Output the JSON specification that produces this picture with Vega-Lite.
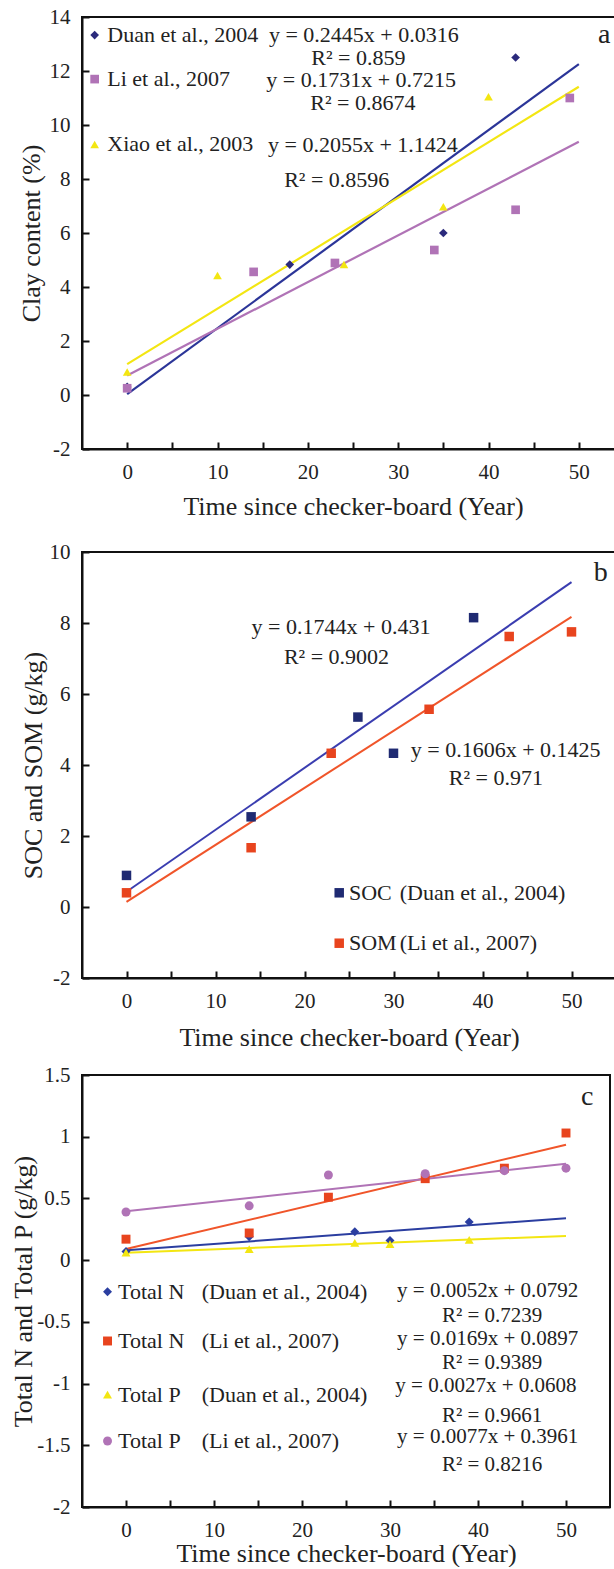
{
  "$schema": "https://vega.github.io/schema/vega-lite/v6.json",
  "padding": {"left": 9, "top": 5, "right": 0, "bottom": 0},
  "background": "white",
  "spacing": 103,
  "bounds": "flush",
  "resolve": {"scale": {"color": "independent", "shape": "independent"}},
  "config": {
    "font": "Liberation Serif",
    "view": {"stroke": "#111", "strokeWidth": 2},
    "axis": {
      "domain": true, "domainColor": "#111", "domainWidth": 2, "zindex": 1,
      "ticks": true, "tickColor": "#111", "tickWidth": 2, "tickSize": -7,
      "labelFont": "Liberation Serif", "labelFontSize": 21, "labelColor": "#222", "labelPadding": 19,
      "titleFont": "Liberation Serif", "titleFontSize": 26, "titleFontWeight": "normal", "titleColor": "#222",
      "grid": false, "labelFlush": false, "labelOverlap": false
    },
    "axisY": {"ticks": true, "tickColor": "#111", "tickWidth": 2, "tickSize": -7},
    "text": {"color": "#222", "font": "Liberation Serif"}
  },
  "datasets": {
    "aPts": [
      {"s": "Duan", "x": 0, "y": 0.3}, {"s": "Duan", "x": 18, "y": 4.83}, {"s": "Duan", "x": 35, "y": 6.0}, {"s": "Duan", "x": 43, "y": 12.5},
      {"s": "Li", "x": 0, "y": 0.25}, {"s": "Li", "x": 14, "y": 4.56}, {"s": "Li", "x": 23, "y": 4.89}, {"s": "Li", "x": 34, "y": 5.37}, {"s": "Li", "x": 43, "y": 6.86}, {"s": "Li", "x": 49, "y": 11.0},
      {"s": "Xiao", "x": 0, "y": 0.85}, {"s": "Xiao", "x": 10, "y": 4.43}, {"s": "Xiao", "x": 24, "y": 4.83}, {"s": "Xiao", "x": 35, "y": 6.97}, {"s": "Xiao", "x": 40, "y": 11.05},
      {"s": "Duan", "x": -3.6, "y": 13.33}, {"s": "Li", "x": -3.6, "y": 11.7}, {"s": "Xiao", "x": -3.6, "y": 9.28}
    ],
    "aLines": [
      {"s": "Duan fit", "x": 0, "y": 0.0316}, {"s": "Duan fit", "x": 50, "y": 12.2566},
      {"s": "Li", "x": 0, "y": 0.7215}, {"s": "Li", "x": 50, "y": 9.3765},
      {"s": "Xiao", "x": 0, "y": 1.1424}, {"s": "Xiao", "x": 50, "y": 11.4174}
    ],
    "aLeg": [
      {"x": -2.2, "y": 13.33, "t": "Duan et al., 2004"},
      {"x": -2.2, "y": 11.7, "t": "Li et al., 2007"},
      {"x": -2.2, "y": 9.28, "t": "Xiao et al., 2003"}
    ],
    "aEq": [
      {"x": 26.2, "y": 13.33, "t": "y = 0.2445x + 0.0316"},
      {"x": 25.6, "y": 12.47, "t": "R² = 0.859"},
      {"x": 25.9, "y": 11.65, "t": "y = 0.1731x + 0.7215"},
      {"x": 26.1, "y": 10.8, "t": "R² = 0.8674"},
      {"x": 26.1, "y": 9.27, "t": "y = 0.2055x + 1.1424"},
      {"x": 23.2, "y": 7.95, "t": "R² = 0.8596"}
    ],
    "aTag": [{"x": 52.8, "y": 13.33, "t": "a"}],
    "bPts": [
      {"s": "SOC", "x": 0, "y": 0.89}, {"s": "SOC", "x": 14, "y": 2.54}, {"s": "SOC", "x": 26, "y": 5.35}, {"s": "SOC", "x": 30, "y": 4.33}, {"s": "SOC", "x": 39, "y": 8.15},
      {"s": "SOM", "x": 0, "y": 0.4}, {"s": "SOM", "x": 14, "y": 1.67}, {"s": "SOM", "x": 23, "y": 4.33}, {"s": "SOM", "x": 34, "y": 5.57}, {"s": "SOM", "x": 43, "y": 7.62}, {"s": "SOM", "x": 50, "y": 7.75},
      {"s": "SOC", "x": 23.9, "y": 0.4}, {"s": "SOM", "x": 23.9, "y": -1.02}
    ],
    "bLines": [
      {"s": "SOC fit", "x": 0, "y": 0.431}, {"s": "SOC fit", "x": 50, "y": 9.151},
      {"s": "SOM fit", "x": 0, "y": 0.1425}, {"s": "SOM fit", "x": 50, "y": 8.1725}
    ],
    "bLeg": [
      {"x": 25.0, "y": 0.4, "t": "SOC"}, {"x": 30.7, "y": 0.4, "t": "(Duan et al., 2004)"},
      {"x": 25.0, "y": -1.02, "t": "SOM"}, {"x": 30.7, "y": -1.02, "t": "(Li et al., 2007)"}
    ],
    "bEq": [
      {"x": 24.1, "y": 7.89, "t": "y = 0.1744x + 0.431"},
      {"x": 23.6, "y": 7.03, "t": "R² = 0.9002"},
      {"x": 42.6, "y": 4.41, "t": "y = 0.1606x + 0.1425"},
      {"x": 41.5, "y": 3.62, "t": "R² = 0.971"}
    ],
    "bTag": [{"x": 53.3, "y": 9.41, "t": "b"}],
    "cPts": [
      {"s": "TN Duan", "x": 0, "y": 0.07}, {"s": "TN Duan", "x": 14, "y": 0.19}, {"s": "TN Duan", "x": 26, "y": 0.23}, {"s": "TN Duan", "x": 30, "y": 0.16}, {"s": "TN Duan", "x": 39, "y": 0.31},
      {"s": "TN Li", "x": 0, "y": 0.17}, {"s": "TN Li", "x": 14, "y": 0.22}, {"s": "TN Li", "x": 23, "y": 0.51}, {"s": "TN Li", "x": 34, "y": 0.66}, {"s": "TN Li", "x": 43, "y": 0.745}, {"s": "TN Li", "x": 50, "y": 1.03},
      {"s": "TP Duan", "x": 0, "y": 0.06}, {"s": "TP Duan", "x": 14, "y": 0.09}, {"s": "TP Duan", "x": 26, "y": 0.14}, {"s": "TP Duan", "x": 30, "y": 0.13}, {"s": "TP Duan", "x": 39, "y": 0.165},
      {"s": "TP Li", "x": 0, "y": 0.39}, {"s": "TP Li", "x": 14, "y": 0.44}, {"s": "TP Li", "x": 23, "y": 0.69}, {"s": "TP Li", "x": 34, "y": 0.70}, {"s": "TP Li", "x": 43, "y": 0.725}, {"s": "TP Li", "x": 50, "y": 0.745},
      {"s": "TN Duan", "x": -2.1, "y": -0.256}, {"s": "TN Li", "x": -2.1, "y": -0.655}, {"s": "TP Duan", "x": -2.1, "y": -1.09}, {"s": "TP Li", "x": -2.1, "y": -1.465}
    ],
    "cLines": [
      {"s": "TN Duan", "x": 0, "y": 0.0792}, {"s": "TN Duan", "x": 50, "y": 0.3392},
      {"s": "TN Li fit", "x": 0, "y": 0.0897}, {"s": "TN Li fit", "x": 50, "y": 0.9347},
      {"s": "TP Duan", "x": 0, "y": 0.0608}, {"s": "TP Duan", "x": 50, "y": 0.1958},
      {"s": "TP Li", "x": 0, "y": 0.3961}, {"s": "TP Li", "x": 50, "y": 0.7811}
    ],
    "cLeg": [
      {"x": -0.9, "y": -0.256, "t": "Total N"}, {"x": 8.6, "y": -0.256, "t": "(Duan et al., 2004)"},
      {"x": -0.9, "y": -0.655, "t": "Total N"}, {"x": 8.6, "y": -0.655, "t": "(Li et al., 2007)"},
      {"x": -0.9, "y": -1.09, "t": "Total P"}, {"x": 8.6, "y": -1.09, "t": "(Duan et al., 2004)"},
      {"x": -0.9, "y": -1.465, "t": "Total P"}, {"x": 8.6, "y": -1.465, "t": "(Li et al., 2007)"}
    ],
    "cEq": [
      {"x": 41.1, "y": -0.25, "t": "y = 0.0052x + 0.0792"},
      {"x": 41.6, "y": -0.455, "t": "R² = 0.7239"},
      {"x": 41.1, "y": -0.64, "t": "y = 0.0169x + 0.0897"},
      {"x": 41.6, "y": -0.835, "t": "R² = 0.9389"},
      {"x": 40.9, "y": -1.02, "t": "y = 0.0027x + 0.0608"},
      {"x": 41.6, "y": -1.26, "t": "R² = 0.9661"},
      {"x": 41.1, "y": -1.43, "t": "y = 0.0077x + 0.3961"},
      {"x": 41.6, "y": -1.66, "t": "R² = 0.8216"}
    ],
    "cTag": [{"x": 52.4, "y": 1.32, "t": "c"}]
  },
  "vconcat": [
    {
      "width": 542, "height": 432,
      "resolve": {"scale": {"color": "shared", "shape": "shared"}},
      "encoding": {
        "x": {"field": "x", "type": "quantitative", "scale": {"domain": [-5, 55], "nice": false, "zero": false},
              "axis": {"values": [0, 5, 10, 15, 20, 25, 30, 35, 40, 45, 50], "labelExpr": "datum.value % 10 === 0 ? datum.label : ''", "title": "Time since checker-board (Year)", "titlePadding": 11}},
        "y": {"field": "y", "type": "quantitative", "scale": {"domain": [-2, 14], "nice": false, "zero": false},
              "axis": {"values": [-2, 0, 2, 4, 6, 8, 10, 12, 14], "ticks": true, "tickSize": -7, "tickColor": "#111", "tickWidth": 2, "labelExpr": "datum.value < 0 ? '-' + format(-datum.value, '~g') : format(datum.value, '~g')", "title": "Clay content (%)", "titlePadding": 5}}
      },
      "layer": [
        {"data": {"name": "aLines"}, "mark": {"type": "line", "strokeWidth": 2.2},
         "encoding": {"color": {"field": "s", "type": "nominal", "scale": {"domain": ["Duan", "Li", "Xiao", "Duan fit"], "range": ["#2B2A7C", "#B073B6", "#F3E612", "#2B3598"]}, "legend": null}}},
        {"data": {"name": "aPts"}, "mark": {"type": "point", "filled": true, "opacity": 1, "size": 75},
         "encoding": {"color": {"field": "s", "type": "nominal", "legend": null},
                      "shape": {"field": "s", "type": "nominal", "scale": {"domain": ["Duan", "Li", "Xiao"], "range": ["diamond", "square", "triangle-up"]}, "legend": null}}},
        {"data": {"name": "aLeg"}, "mark": {"type": "text", "align": "left", "baseline": "middle", "fontSize": 22},
         "encoding": {"text": {"field": "t"}}},
        {"data": {"name": "aEq"}, "mark": {"type": "text", "align": "center", "baseline": "middle", "fontSize": 22},
         "encoding": {"text": {"field": "t"}}},
        {"data": {"name": "aTag"}, "mark": {"type": "text", "align": "center", "baseline": "middle", "fontSize": 28},
         "encoding": {"text": {"field": "t"}}}
      ]
    },
    {
      "vconcat": [
        {
          "width": 534, "height": 426,
          "resolve": {"scale": {"color": "shared"}},
          "encoding": {
            "x": {"field": "x", "type": "quantitative", "scale": {"domain": [-5, 55], "nice": false, "zero": false},
                  "axis": {"values": [0, 5, 10, 15, 20, 25, 30, 35, 40, 45, 50], "labelExpr": "datum.value % 10 === 0 ? datum.label : ''", "title": "Time since checker-board (Year)", "titlePadding": 13}},
            "y": {"field": "y", "type": "quantitative", "scale": {"domain": [-2, 10], "nice": false, "zero": false},
                  "axis": {"values": [-2, 0, 2, 4, 6, 8, 10], "ticks": true, "tickSize": -7, "tickColor": "#111", "tickWidth": 2, "labelExpr": "datum.value < 0 ? '-' + format(-datum.value, '~g') : format(datum.value, '~g')", "title": "SOC and SOM (g/kg)", "titlePadding": 3}}
          },
          "layer": [
            {"data": {"name": "bLines"}, "mark": {"type": "line", "strokeWidth": 2},
             "encoding": {"color": {"field": "s", "type": "nominal", "scale": {"domain": ["SOC", "SOM", "SOC fit", "SOM fit"], "range": ["#1F2A72", "#E8441E", "#3A3DB0", "#F0552A"]}, "legend": null}}},
            {"data": {"name": "bPts"}, "mark": {"type": "square", "filled": true, "opacity": 1, "size": 90},
             "encoding": {"color": {"field": "s", "type": "nominal", "legend": null}}},
            {"data": {"name": "bLeg"}, "mark": {"type": "text", "align": "left", "baseline": "middle", "fontSize": 22},
             "encoding": {"text": {"field": "t"}}},
            {"data": {"name": "bEq"}, "mark": {"type": "text", "align": "center", "baseline": "middle", "fontSize": 22},
             "encoding": {"text": {"field": "t"}}},
            {"data": {"name": "bTag"}, "mark": {"type": "text", "align": "center", "baseline": "middle", "fontSize": 28},
             "encoding": {"text": {"field": "t"}}}
          ]
        },
        {
          "width": 528, "height": 432,
          "resolve": {"scale": {"color": "shared", "shape": "shared"}},
          "encoding": {
            "x": {"field": "x", "type": "quantitative", "scale": {"domain": [-5, 55], "nice": false, "zero": false},
                  "axis": {"values": [0, 5, 10, 15, 20, 25, 30, 35, 40, 45, 50], "labelExpr": "datum.value % 10 === 0 ? datum.label : ''", "title": "Time since checker-board (Year)", "titlePadding": 0}},
            "y": {"field": "y", "type": "quantitative", "scale": {"domain": [-2, 1.5], "nice": false, "zero": false},
                  "axis": {"values": [-2, -1.5, -1, -0.5, 0, 0.5, 1, 1.5], "ticks": true, "tickSize": -7, "tickColor": "#111", "tickWidth": 2, "labelExpr": "datum.value < 0 ? '-' + format(-datum.value, '~g') : format(datum.value, '~g')", "title": "Total N and Total P (g/kg)", "titlePadding": 0}}
          },
          "layer": [
            {"data": {"name": "cLines"}, "mark": {"type": "line", "strokeWidth": 2},
             "encoding": {"color": {"field": "s", "type": "nominal", "scale": {"domain": ["TN Duan", "TN Li", "TP Duan", "TP Li", "TN Li fit"], "range": ["#2B3EA0", "#E8441E", "#F3E612", "#B073B6", "#F0552A"]}, "legend": null}}},
            {"data": {"name": "cPts"}, "mark": {"type": "point", "filled": true, "opacity": 1, "size": 80},
             "encoding": {"color": {"field": "s", "type": "nominal", "legend": null},
                          "shape": {"field": "s", "type": "nominal", "scale": {"domain": ["TN Duan", "TN Li", "TP Duan", "TP Li"], "range": ["diamond", "square", "triangle-up", "circle"]}, "legend": null}}},
            {"data": {"name": "cLeg"}, "mark": {"type": "text", "align": "left", "baseline": "middle", "fontSize": 22},
             "encoding": {"text": {"field": "t"}}},
            {"data": {"name": "cEq"}, "mark": {"type": "text", "align": "center", "baseline": "middle", "fontSize": 21},
             "encoding": {"text": {"field": "t"}}},
            {"data": {"name": "cTag"}, "mark": {"type": "text", "align": "center", "baseline": "middle", "fontSize": 28},
             "encoding": {"text": {"field": "t"}}}
          ]
        }
      ],
      "spacing": 97,
      "bounds": "flush",
      "resolve": {"scale": {"color": "independent", "shape": "independent"}}
    }
  ]
}
